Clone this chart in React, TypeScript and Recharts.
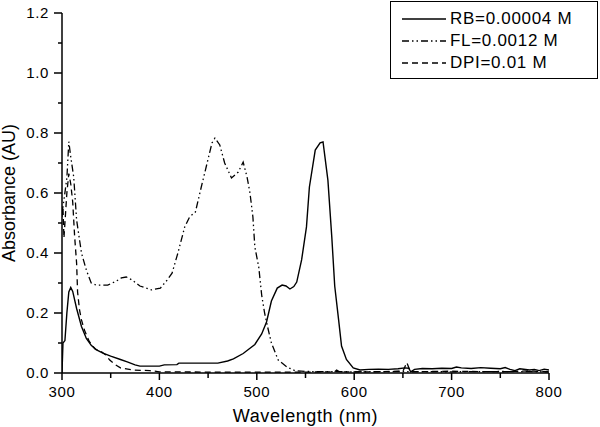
import { LineChart, Line, XAxis, YAxis, Legend } from 'recharts';

// wavelength (nm) / absorbance (AU)
const rbWl = [
  300, 301, 303, 305, 307, 309, 311, 315, 320, 325, 330, 335, 342, 350, 360, 367, 375, 380, 400, 405,
  418, 420, 460, 470, 476, 486, 492, 498, 505, 510, 515, 521, 526, 530, 534, 538, 541, 546, 551, 554,
  560, 565, 568, 573, 577, 580, 584, 587, 592, 599, 606, 615, 625, 635, 645, 652, 656, 658, 662, 670,
  680, 690, 700, 705, 710, 720, 730, 740, 750, 755, 760, 765, 770, 780, 785, 790, 795, 800,
];
const rbAbs = [
  0.0, 0.1, 0.108, 0.2, 0.27, 0.285, 0.272, 0.215, 0.155, 0.115, 0.092, 0.078, 0.066, 0.056, 0.045, 0.037, 0.027, 0.023, 0.023, 0.027,
  0.028, 0.033, 0.033, 0.04, 0.047, 0.065, 0.08, 0.095, 0.13, 0.17, 0.24, 0.283, 0.293, 0.29, 0.28, 0.288, 0.303, 0.377, 0.487, 0.62,
  0.743, 0.767, 0.77, 0.643, 0.453, 0.29, 0.177, 0.09, 0.045, 0.017, 0.01, 0.012, 0.013, 0.012, 0.014, 0.017, 0.016, 0.004, 0.012, 0.015,
  0.014, 0.016, 0.015, 0.02, 0.017, 0.015, 0.018, 0.016, 0.014, 0.018, 0.012, 0.008, 0.014, 0.01, 0.012, 0.008, 0.013, 0.01,
];

const flWl = [
  300, 302, 305, 307, 309, 312, 315, 320, 325, 330, 335, 347, 355, 361, 366, 372, 380, 392, 401, 408,
  413, 419, 426, 431, 437, 443, 449, 454, 457, 462, 467, 474, 481, 486, 490, 493, 496, 498, 502, 505,
  508, 511, 515, 522, 531, 539, 550, 600, 650, 700, 750, 800,
];
const flAbs = [
  0.533, 0.577, 0.65, 0.771, 0.72, 0.654, 0.51, 0.4, 0.343, 0.3, 0.293, 0.293, 0.305, 0.317, 0.32, 0.31, 0.29, 0.277, 0.283, 0.31,
  0.333, 0.4, 0.487, 0.52, 0.537, 0.62, 0.7, 0.767, 0.783, 0.76, 0.7, 0.65, 0.67, 0.703, 0.653, 0.6, 0.52, 0.42, 0.353, 0.26,
  0.2, 0.155, 0.1, 0.043, 0.02, 0.008, 0.005, 0.004, 0.005, 0.004, 0.005, 0.004,
];

const dpiWl = [
  300, 301, 302, 303, 305, 307, 309, 311, 313, 315, 316, 318, 320, 323, 328, 334, 340, 345, 349, 355,
  360, 373, 390, 400, 450, 500, 550, 580, 582, 585, 620, 650, 654, 657, 660, 700, 750, 780, 800,
];
const dpiAbs = [
  0.52, 0.55, 0.45, 0.5, 0.6, 0.665, 0.63, 0.57, 0.454, 0.366, 0.27, 0.21, 0.177, 0.143, 0.105, 0.08, 0.072, 0.06, 0.043, 0.027,
  0.017, 0.01, 0.008, 0.004, 0.003, 0.003, 0.003, 0.004, 0.01, 0.004, 0.004, 0.006, 0.035, 0.01, 0.004, 0.006, 0.004, 0.007, 0.004,
];

const seriesNames = ['RB=0.00004 M', 'FL=0.0012 M', 'DPI=0.01 M'];
const seriesDash = ['', '7 3 1.5 3 1.5 3', '6 4'];

const xTicks = [300, 350, 400, 450, 500, 550, 600, 650, 700, 750, 800];
const yTicks = [0, 0.1, 0.2, 0.3, 0.4, 0.5, 0.6, 0.7, 0.8, 0.9, 1.0, 1.1, 1.2];

const toPoints = (wl: number[], abs: number[]) => wl.map((w, i) => ({ wl: w, abs: abs[i] }));

const rbData = toPoints(rbWl, rbAbs);
const flData = toPoints(flWl, flAbs);
const dpiData = toPoints(dpiWl, dpiAbs);

const FONT = '"Liberation Sans", Arial, sans-serif';

function XTick({ x, y, payload }: any) {
  const major = payload.value % 100 === 0;
  return (
    <g>
      <line x1={x} y1={y} x2={x} y2={y + (major ? 7 : 5)} stroke="#000" strokeWidth={1.5} />
      {major && (
        <text x={x} y={y + 24} textAnchor="middle" fontSize={15} letterSpacing={0.6} fill="#000" fontFamily={FONT}>
          {payload.value}
        </text>
      )}
    </g>
  );
}

function YTick({ x, y, payload }: any) {
  const major = Math.round(payload.value * 10) % 2 === 0;
  return (
    <g>
      <line x1={x} y1={y} x2={x - (major ? 8 : 4)} y2={y} stroke="#000" strokeWidth={1.5} />
      {major && (
        <text x={x - 13} y={y + 5} textAnchor="end" fontSize={15} letterSpacing={0.6} fill="#000" fontFamily={FONT}>
          {payload.value.toFixed(1)}
        </text>
      )}
    </g>
  );
}

function LegendBox() {
  return (
    <div
      style={{
        width: 208,
        height: 78,
        border: '1px solid #000',
        background: '#fff',
        fontFamily: FONT,
        fontSize: 17,
        letterSpacing: 0.7,
        boxSizing: 'border-box',
        paddingTop: 6,
      }}
    >
      {seriesNames.map((name, i) => (
        <div key={name} style={{ display: 'flex', alignItems: 'center', height: 22 }}>
          <svg width={59} height={10}>
            <line x1={11} y1={5} x2={55} y2={5} stroke="#000" strokeWidth={1.3} strokeDasharray={seriesDash[i]} />
          </svg>
          <span style={{ color: '#000' }}>{name}</span>
        </div>
      ))}
    </div>
  );
}

export default function App() {
  return (
    <div style={{ position: 'absolute', left: 0, top: 0, background: '#fff' }}>
      <LineChart width={600} height={427} margin={{ top: 13, right: 51, left: 0, bottom: 0 }} style={{ fontFamily: FONT }}>
        <XAxis
          dataKey="wl"
          type="number"
          domain={[300, 800]}
          ticks={xTicks}
          interval={0}
          allowDataOverflow
          height={54}
          tickSize={0}
          tickMargin={0}
          tickLine={false}
          axisLine={{ stroke: '#000', strokeWidth: 1.5 }}
          tick={<XTick />}
          label={{
            content: ({ viewBox }: any) => (
              <text
                x={viewBox.x + viewBox.width / 2}
                y={viewBox.y + 49}
                textAnchor="middle"
                fontSize={18}
                letterSpacing={0.6}
                fill="#000"
                fontFamily={FONT}
              >
                Wavelength (nm)
              </text>
            ),
          }}
        />
        <YAxis
          dataKey="abs"
          type="number"
          domain={[0, 1.2]}
          ticks={yTicks}
          interval={0}
          allowDataOverflow
          width={62}
          tickSize={0}
          tickMargin={0}
          tickLine={false}
          axisLine={{ stroke: '#000', strokeWidth: 1.5 }}
          tick={<YTick />}
          label={{
            content: ({ viewBox }: any) => {
              const cy = viewBox.y + viewBox.height / 2;
              return (
                <text
                  x={15}
                  y={cy}
                  transform={`rotate(-90, 15, ${cy})`}
                  textAnchor="middle"
                  fontSize={18}
                  fill="#000"
                  fontFamily={FONT}
                >
                  Absorbance (AU)
                </text>
              );
            },
          }}
        />
        <Legend
          layout="vertical"
          align="center"
          verticalAlign="middle"
          content={() => <LegendBox />}
          wrapperStyle={{ left: 390, top: 1, width: 208, height: 78 }}
        />
        <Line
          data={rbData}
          dataKey="abs"
          name={seriesNames[0]}
          type="linear"
          stroke="#000"
          strokeWidth={1.4}
          dot={false}
          isAnimationActive={false}
        />
        <Line
          data={flData}
          dataKey="abs"
          name={seriesNames[1]}
          type="linear"
          stroke="#000"
          strokeWidth={1.3}
          strokeDasharray={seriesDash[1]}
          dot={false}
          isAnimationActive={false}
        />
        <Line
          data={dpiData}
          dataKey="abs"
          name={seriesNames[2]}
          type="linear"
          stroke="#000"
          strokeWidth={1.3}
          strokeDasharray={seriesDash[2]}
          dot={false}
          isAnimationActive={false}
        />
      </LineChart>
    </div>
  );
}
